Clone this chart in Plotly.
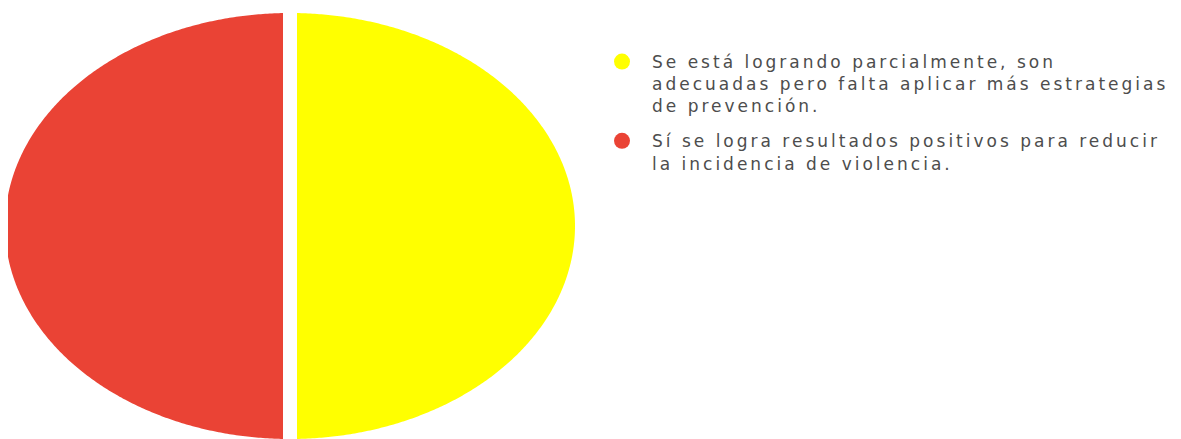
import numpy as np
import plotly.graph_objects as go

# ---- data ----
categories = [
    ["Se está logrando parcialmente, son",
     "adecuadas pero falta aplicar más estrategias",
     "de prevención."],
    ["Sí se logra resultados positivos para reducir",
     "la incidencia de violencia."],
]
values = [50, 50]
colors = ["#FFFF00", "#EA4335"]

# ---- layout parameters ----
W, H = 1181, 439
OFF = 8  # page body margin
cx, cy = 290, 226
rx, ry = 292, 220
border = 14
LS = "letter-spacing:3.0px"


def fmt(lines):
    return "<br>".join(f'<span style="{LS}">{ln}</span>' for ln in lines)


fig = go.Figure()
total = float(sum(values))
start = 0.0
for lab, v, c in zip(categories, values, colors):
    t = np.linspace(start, start + v / total, 400) * 2 * np.pi
    xs = np.concatenate([[cx], cx + rx * np.sin(t), [cx]])
    ys = np.concatenate([[cy], cy - ry * np.cos(t), [cy]])
    fig.add_trace(go.Scatter(
        x=xs, y=ys, fill="toself", fillcolor=c, mode="lines",
        line=dict(color="white", width=border, simplify=False),
        showlegend=False, hoverinfo="skip"))
    start += v / total

for lab, c in zip(categories, colors):
    fig.add_trace(go.Scatter(
        x=[None], y=[None], mode="markers", name=fmt(lab),
        marker=dict(color=c, size=16, symbol="circle"),
        legendgroup=lab[0]))

fig.update_layout(
    width=W, height=H,
    margin=dict(l=0, r=0, t=0, b=0),
    paper_bgcolor="white", plot_bgcolor="white",
    xaxis=dict(range=[OFF, W + OFF], visible=False, fixedrange=True),
    yaxis=dict(range=[H + OFF, OFF], visible=False, fixedrange=True),
    showlegend=True,
    legend=dict(
        x=584 / W, y=1 - 36 / H, xanchor="left", yanchor="top",
        valign="top", tracegroupgap=10, itemwidth=50,
        font=dict(family="DejaVu Sans", size=17, color="#4d4d4d"),
        bgcolor="rgba(0,0,0,0)"),
)

fig.write_html("out.html")
